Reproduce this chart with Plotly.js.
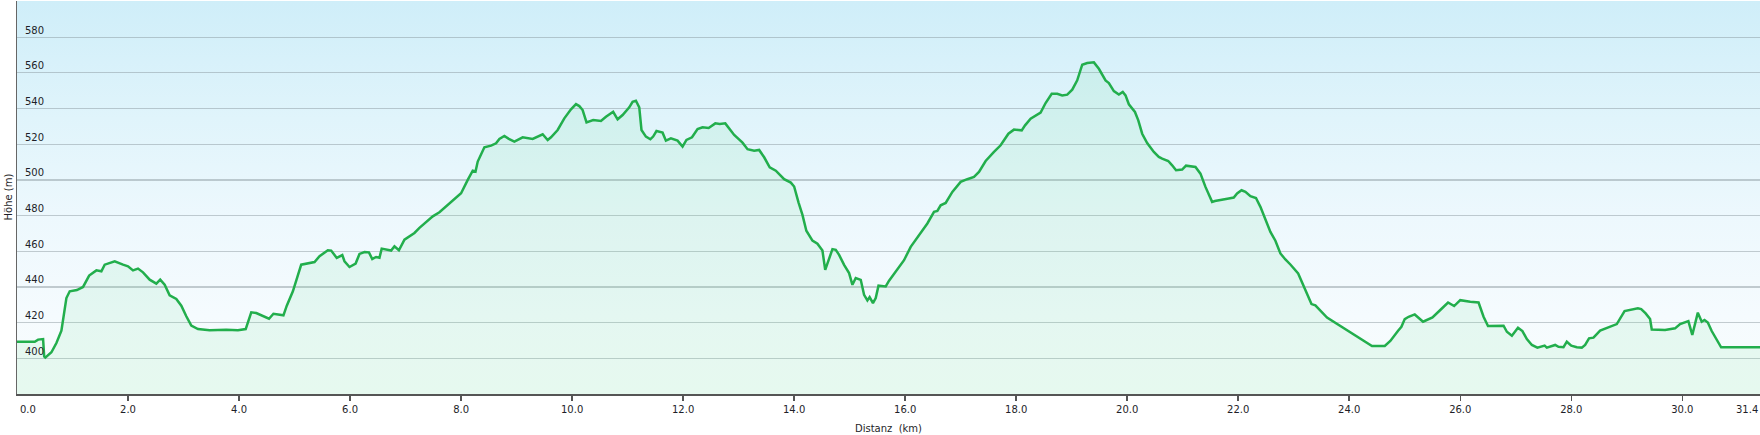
<!DOCTYPE html>
<html>
<head>
<meta charset="utf-8">
<script src="https://cdn.plot.ly/plotly-3.0.1.min.js"></script>
<style>
  html, body { margin: 0; padding: 0; background: #ffffff; }
  #wrap { position: relative; width: 1760px; height: 435px; }
  #bg { position: absolute; left: 17px; top: 1px; width: 1743px; height: 393px;
        background: linear-gradient(to bottom, #cfeef9 0%, #e0f4fb 30%, #edf8fd 55%, #f5fbfe 80%, #f8fdfc 100%); }
  #chart { position: absolute; left: 0; top: 0; width: 1760px; height: 435px; }
</style>
</head>
<body>
<div id="wrap"><div id="bg"></div><div id="chart"></div></div>
<script>
// Distance (km)
const dist = [0.00,0.32,0.38,0.47,0.49,0.51,0.62,0.71,0.80,0.86,0.89,0.95,1.08,1.19,1.30,1.43,1.52,1.58,1.67,1.76,1.91,2.00,2.09,2.18,2.27,2.39,2.51,2.58,2.66,2.75,2.87,2.96,3.05,3.14,3.26,3.47,3.77,3.98,4.12,4.22,4.31,4.54,4.62,4.80,4.86,4.97,5.12,5.20,5.36,5.45,5.60,5.66,5.76,5.86,5.90,5.99,6.10,6.17,6.26,6.34,6.40,6.47,6.53,6.57,6.68,6.74,6.80,6.88,6.98,7.16,7.25,7.49,7.61,7.79,
8.00,8.12,8.21,8.26,8.30,8.42,8.54,8.63,8.69,8.78,8.86,8.96,9.11,9.29,9.47,9.56,9.62,9.74,9.86,9.98,10.07,10.13,10.19,10.26,10.38,10.52,10.61,10.74,10.82,10.91,11.03,11.09,11.15,11.21,11.25,11.33,11.41,11.46,11.52,11.63,11.69,11.78,11.90,11.99,12.06,12.16,12.26,12.35,12.46,12.58,12.66,12.76,12.92,13.07,13.16,13.28,13.37,13.46,13.56,13.67,13.82,13.94,14.00,14.08,14.15,14.22,14.33,14.42,14.51,14.56,14.60,14.69,14.75,14.81,14.90,14.99,15.05,15.11,15.20,15.26,15.32,15.36,15.42,15.47,15.52,15.65,15.71,15.89,
15.98,16.10,16.28,16.40,16.52,16.58,16.64,16.73,16.85,17.00,17.12,17.24,17.33,17.45,17.60,17.72,17.86,17.96,18.10,18.16,18.26,18.35,18.44,18.53,18.64,18.74,18.83,18.92,19.01,19.10,19.19,19.28,19.40,19.49,19.61,19.67,19.76,19.85,19.92,19.97,20.03,20.14,20.20,20.27,20.36,20.48,20.57,20.63,20.74,20.81,20.88,20.99,21.06,21.23,21.32,21.41,21.48,21.53,21.58,21.68,21.83,21.92,21.98,22.06,22.13,22.22,22.32,22.40,22.49,22.58,22.67,22.76,22.85,22.94,23.08,23.18,23.32,23.39,23.60,
24.41,24.64,24.74,24.80,24.88,24.94,25.00,25.07,25.18,25.33,25.50,25.64,25.78,25.89,26.00,26.18,26.33,26.42,26.50,26.78,26.84,26.93,27.04,27.12,27.20,27.29,27.39,27.52,27.56,27.71,27.77,27.86,27.92,28.00,28.10,28.19,28.25,28.32,28.40,28.52,28.82,28.96,29.20,29.26,29.34,29.42,29.45,29.69,29.87,29.96,30.11,30.18,30.28,30.35,30.40,30.46,30.53,30.70,31.40];

// Elevation (m)
const elev = [409.3,409.3,410.5,410.8,401.0,400.4,403.4,408.6,415.5,427.3,433.8,437.6,438.3,440.0,446.4,449.3,448.8,452.5,453.5,454.4,452.5,451.6,449.3,450.3,448.2,444.1,441.9,444.1,441.3,435.3,433.3,429.5,423.6,418.3,416.4,415.7,416.0,415.7,416.4,425.8,425.4,422.2,425.0,424.1,429.5,437.6,452.5,453.1,454.0,457.2,460.6,460.4,456.3,457.9,454.4,451.2,453.1,458.5,459.6,459.4,455.7,456.8,456.4,461.5,460.9,460.4,462.8,460.6,466.5,470.3,473.1,479.6,481.9,486.7,
492.5,500.0,505.2,504.7,510.3,518.3,519.2,520.5,523.0,524.6,523.0,521.5,523.9,523.0,525.6,522.4,523.9,528.0,534.5,539.6,542.5,541.4,539.2,532.3,533.6,533.0,535.4,538.2,534.0,536.4,540.7,543.8,544.4,540.7,528.0,524.3,522.8,524.3,527.4,526.5,522.0,523.3,522.0,518.7,522.4,523.9,528.5,529.5,529.1,531.7,531.3,531.7,525.2,520.9,517.2,516.4,516.8,512.7,507.1,505.2,500.4,498.5,496.3,487.3,480.4,471.5,466.0,464.2,460.4,449.6,453.4,461.2,460.8,458.0,452.4,447.8,441.2,445.0,444.0,435.6,432.5,434.3,431.0,433.8,440.7,440.3,443.5,451.0,
455.0,462.5,470.0,475.6,482.1,482.6,485.8,487.1,493.3,498.9,500.4,501.7,504.5,510.6,515.7,519.4,525.9,528.2,527.8,530.6,534.3,536.2,537.7,543.1,548.3,548.3,547.4,547.8,550.6,555.8,564.6,565.5,565.9,562.3,555.8,554.3,549.8,547.9,549.3,547.4,542.4,538.1,533.4,525.9,520.7,515.7,512.9,511.9,510.6,508.2,505.4,505.8,508.0,507.3,503.5,496.1,491.4,487.7,488.2,488.6,489.6,490.1,492.4,494.2,493.3,490.9,489.9,484.9,477.8,470.9,465.9,458.8,455.4,452.6,447.6,440.1,430.4,429.7,422.8,
406.9,406.9,409.7,412.5,415.5,417.7,422.0,423.3,424.6,420.5,422.9,427.1,431.3,429.3,432.6,431.7,431.3,423.3,418.1,418.3,414.9,412.7,417.2,415.3,410.8,407.5,406.0,407.1,406.0,407.5,406.5,406.2,409.3,407.1,406.2,406.0,407.5,411.2,411.6,415.5,419.2,426.5,428.0,427.6,425.2,422.0,416.2,415.9,416.8,419.2,420.9,413.1,425.6,420.5,421.5,420.1,415.3,406.2,406.2];

// Axis ticks
const xTickVals = [0,2,4,6,8,10,12,14,16,18,20,22,24,26,28,30];
const xTickText = ["","2.0","4.0","6.0","8.0","10.0","12.0","14.0","16.0","18.0","20.0","22.0","24.0","26.0","28.0","30.0"];
const xStartLabel = "0.0";
const xEndLabel = "31.4";
const xMax = 31.4;
const yTickVals = [400,420,440,460,480,500,520,540,560,580];
const xTitle = "Distanz\u00a0 (km)";
const yTitle = "Höhe (m)";

const FONT = "DejaVu Sans, Verdana, sans-serif";
const TXT = "#1e1e28";

const trace = {
  x: dist, y: elev, type: "scatter", mode: "lines",
  line: {color: "#22ae4c", width: 2.5},
  fill: "tozeroy", fillcolor: "rgba(110,225,150,0.12)",
  hoverinfo: "skip"
};

const layout = {
  width: 1760, height: 435,
  margin: {l: 17, r: 0, t: 1, b: 41},
  paper_bgcolor: "rgba(0,0,0,0)",
  plot_bgcolor: "rgba(0,0,0,0)",
  showlegend: false,
  font: {family: FONT, size: 10, color: TXT},
  xaxis: {
    range: [0, xMax], fixedrange: true,
    tickvals: xTickVals, ticktext: xTickText,
    ticks: "outside", ticklen: 5, tickwidth: 1.5, tickcolor: "#555",
    showline: true, linecolor: "#555", linewidth: 2,
    showgrid: false, zeroline: false,
    tickfont: {family: FONT, size: 10, color: TXT},
    title: {text: xTitle, font: {family: FONT, size: 10, color: TXT}, standoff: 11}
  },
  yaxis: {
    range: [380, 600.3], fixedrange: true,
    tickvals: yTickVals,
    ticks: "", ticklabelposition: "inside", ticklabelstandoff: 7, ticklabelshift: -7,
    showline: true, linecolor: "#666", linewidth: 1.5,
    showgrid: true, gridcolor: "rgba(130,145,150,0.45)", gridwidth: 1.2,
    zeroline: false,
    tickfont: {family: FONT, size: 10, color: TXT}
  },
  annotations: [
    {
      x: xMax, xref: "x", y: 0, yref: "paper", yshift: -15,
      text: xEndLabel, showarrow: false, xanchor: "right", yanchor: "middle",
      font: {family: FONT, size: 10, color: TXT}
    },
    {
      x: 0, xref: "x", y: 0, yref: "paper", yshift: -15, xshift: 1,
      text: xStartLabel, showarrow: false, xanchor: "left", yanchor: "middle",
      font: {family: FONT, size: 10, color: TXT}
    },
    {
      x: 0, xref: "paper", y: 0.5, yref: "paper", xshift: -9,
      text: yTitle, textangle: -90, showarrow: false, xanchor: "center", yanchor: "middle",
      font: {family: FONT, size: 10, color: TXT}
    }
  ]
};

Plotly.newPlot("chart", [trace], layout, {displayModeBar: false, staticPlot: true});
</script>
</body>
</html>
